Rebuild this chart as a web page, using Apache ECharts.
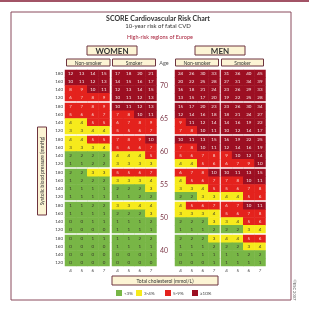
<!DOCTYPE html>
<html>
<head>
<meta charset="utf-8">
<script src="https://cdn.jsdelivr.net/npm/echarts@6/dist/echarts.min.js"></script>
<style>
html,body{margin:0;padding:0;background:#fff}
#chart{width:309px;height:309px}
</style>
</head>
<body>
<div id="chart"></div>
<script>
// SCORE chart - high risk regions
const ages = ['70', '65', '60', '55', '50', '40'];
const cholesterol = ['4', '5', '6', '7'];
const sbp = ['120', '140', '160', '180'];

// each age block: rows from top (180) to bottom (120), cols chol 4..7
const womenNonSmoker = [
  [[12,13,14,15],[10,11,12,13],[8,9,10,11],[6,7,8,9]],
  [[7,7,8,9],[5,6,6,7],[4,4,5,5],[3,3,4,4]],
  [[4,4,5,5],[3,3,3,4],[2,2,2,2],[1,1,2,2]],
  [[2,2,3,3],[1,2,2,2],[1,1,1,1],[1,1,1,1]],
  [[1,1,2,2],[1,1,1,1],[0,0,1,1],[0,0,0,0]],
  [[0,0,1,1],[0,0,0,0],[0,0,0,0],[0,0,0,0]]
];
const womenSmoker = [
  [[17,18,20,21],[14,15,16,17],[12,13,14,15],[10,11,12,13]],
  [[10,11,12,13],[7,8,10,11],[6,7,8,9],[5,5,6,7]],
  [[7,8,9,10],[5,6,6,7],[4,4,4,5],[3,3,3,3]],
  [[5,5,6,7],[3,3,3,4],[2,2,2,3],[1,1,2,2]],
  [[3,3,4,4],[2,2,2,3],[1,1,1,2],[1,1,1,1]],
  [[1,1,2,2],[1,1,1,1],[0,0,0,1],[0,0,0,0]]
];
const menNonSmoker = [
  [[24,26,30,33],[20,22,25,28],[16,18,21,24],[13,15,17,20]],
  [[15,17,20,23],[12,14,16,18],[9,11,12,14],[7,8,10,11]],
  [[10,11,13,15],[7,8,10,11],[5,6,7,8],[4,4,5,6]],
  [[6,7,8,10],[4,5,6,7],[3,3,4,5],[2,2,3,3]],
  [[4,5,6,7],[3,3,3,4],[2,2,2,3],[1,1,1,2]],
  [[2,2,2,3],[1,1,1,2],[0,1,1,1],[0,0,0,1]]
];
const menSmoker = [
  [[31,36,40,45],[27,31,34,39],[23,26,29,33],[19,22,25,28]],
  [[23,26,30,34],[18,21,24,27],[14,16,19,22],[10,12,14,17]],
  [[16,19,22,25],[12,14,16,19],[9,10,12,14],[6,7,9,10]],
  [[10,11,13,15],[7,8,10,11],[5,6,7,8],[4,4,5,6]],
  [[6,7,10,11],[5,6,7,8],[3,4,5,6],[2,2,3,4]],
  [[4,4,5,6],[2,2,3,4],[1,1,2,2],[1,1,1,1]]
];

const riskLabels = ['<3%', '3-4%', '5-9%', '\u226510%'];
const riskColors = ['#78b646', '#f6ea1c', '#e4221d', '#9c0f22'];

const chart = echarts.init(document.getElementById('chart'));

const blocks = [womenNonSmoker, womenSmoker, menNonSmoker, menSmoker];
const colX = [65, 112, 175, 221];
const rowY = [70, 103, 136, 169, 202, 235];
const cellW = 44.5, cellH = 31;
const maroon = '#7e3a4a';
const font = 'Lato';

let grids = [], xAxes = [], yAxes = [], series = [];
blocks.forEach((block, c) => {
  block.forEach((rows, a) => {
    const i = grids.length;
    grids.push({left: colX[c], top: rowY[a], width: cellW, height: cellH});
    xAxes.push({
      type: 'category', gridIndex: i, data: cholesterol,
      axisLine: {show: false}, axisTick: {show: false}, splitLine: {show: false},
      axisLabel: {show: a === ages.length - 1, fontSize: 4.5, margin: 2, color: '#444', fontFamily: font}
    });
    yAxes.push({
      type: 'category', gridIndex: i, data: sbp,
      axisLine: {show: false}, axisTick: {show: false}, splitLine: {show: false},
      axisLabel: {show: c === 0, fontSize: 4.5, margin: 2, color: '#444', fontFamily: font}
    });
    const data = [];
    rows.forEach((row, r) => row.forEach((v, k) => {
      data.push({value: [k, sbp.length - 1 - r, v], label: {color: v >= 10 ? '#f6e6e6' : (v >= 5 ? '#f8d8d0' : '#3a3a2a')}});
    }));
    series.push({
      type: 'heatmap', xAxisIndex: i, yAxisIndex: i, data: data,
      label: {show: true, fontSize: 4.5, fontFamily: font, formatter: p => p.value[2]},
      itemStyle: {borderWidth: 0},
      emphasis: {disabled: true}
    });
  });
});

function box(x, y, w, h, text, size, weight) {
  return {
    type: 'group', children: [
      {type: 'rect', shape: {x: x, y: y, width: w, height: h}, style: {fill: '#fcf4d4', stroke: '#6e3440', lineWidth: 1}},
      {type: 'text', x: x + w / 2, y: y + h / 2 + 0.5, style: {text: text, fontSize: size, fontWeight: weight || 'normal', fontFamily: font, fill: '#333', align: 'center', verticalAlign: 'middle'}}
    ]
  };
}

const graphic = [
  {type: 'rect', shape: {x: 0, y: 0, width: 309, height: 2}, style: {fill: '#a25366'}},
  {type: 'rect', shape: {x: 11, y: 12, width: 280, height: 288}, style: {fill: 'none', stroke: '#8a4a5c', lineWidth: 1}},
  {type: 'text', x: 158, y: 19, style: {text: 'SCORE Cardiovascular Risk Chart', fontSize: 7, fontWeight: 'bold', fontFamily: font, fill: '#333', align: 'center', verticalAlign: 'middle'}},
  {type: 'text', x: 158, y: 26.5, style: {text: '10-year risk of fatal CVD', fontSize: 6, fontFamily: font, fill: '#333', align: 'center', verticalAlign: 'middle'}},
  {type: 'text', x: 160, y: 37.5, style: {text: 'High-risk regions of Europe', fontSize: 5.5, fontFamily: font, fill: '#a8203a', align: 'center', verticalAlign: 'middle'}},
  box(87, 46, 50, 9, 'WOMEN', 8, 'bold'),
  box(195, 46, 50, 9, 'MEN', 8, 'bold'),
  box(66.5, 59, 43.5, 7, 'Non-smoker', 5),
  box(112.5, 59, 43, 7, 'Smoker', 5),
  box(175.5, 59, 43, 7, 'Non-smoker', 5),
  box(221.5, 59, 42, 7, 'Smoker', 5),
  {type: 'text', x: 164, y: 63, style: {text: 'Age', fontSize: 5.5, fontFamily: font, fill: '#555', align: 'center', verticalAlign: 'middle'}},
  box(112, 276, 106, 9, 'Total cholesterol (mmol/L)', 5),
  {type: 'group', x: 42, y: 171, rotation: Math.PI / 2, children: [
    {type: 'rect', shape: {x: -44, y: -4.5, width: 88, height: 9}, style: {fill: '#fcf4d4', stroke: '#6e3440', lineWidth: 1}},
    {type: 'text', x: 0, y: 0.5, style: {text: 'Systolic blood pressure (mmHg)', fontSize: 5, fontFamily: font, fill: '#333', align: 'center', verticalAlign: 'middle'}}
  ]},
  {type: 'text', x: 294, y: 290, rotation: -Math.PI / 2, style: {text: '\u00a9ESC 2007', fontSize: 4, fontFamily: font, fill: '#555', align: 'center', verticalAlign: 'middle'}}
];

ages.forEach((age, a) => {
  graphic.push({type: 'text', x: 164, y: rowY[a] + cellH / 2, style: {text: age, fontSize: 7, fontFamily: font, fill: maroon, align: 'center', verticalAlign: 'middle'}});
});

const legendX = [116, 136, 165, 192];
riskLabels.forEach((lab, i) => {
  graphic.push({type: 'rect', shape: {x: legendX[i], y: 290, width: 6, height: 6}, style: {fill: riskColors[i]}});
  graphic.push({type: 'text', x: legendX[i] + 8, y: 293.5, style: {text: lab, fontSize: 4.5, fontFamily: font, fill: '#444', verticalAlign: 'middle'}});
});

chart.setOption({
  backgroundColor: '#fff',
  animation: false,
  grid: grids,
  xAxis: xAxes,
  yAxis: yAxes,
  visualMap: {
    type: 'piecewise', show: false, dimension: 2,
    pieces: [
      {lt: 3, color: riskColors[0]},
      {gte: 3, lt: 5, color: riskColors[1]},
      {gte: 5, lt: 10, color: riskColors[2]},
      {gte: 10, color: riskColors[3]}
    ]
  },
  graphic: graphic,
  series: series
});
</script>
</body>
</html>
